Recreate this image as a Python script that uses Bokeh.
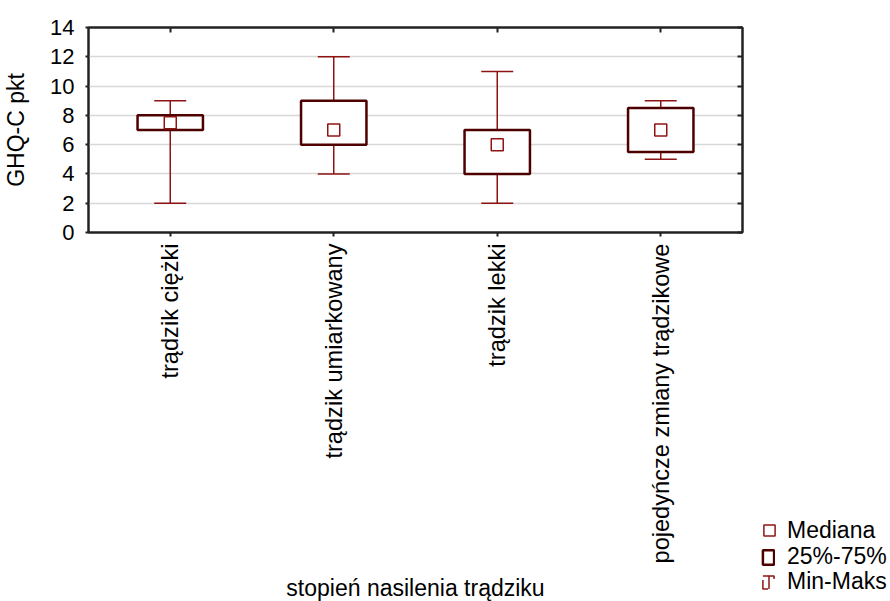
import math
from bokeh.plotting import figure
from bokeh.models import (ColumnDataSource, LinearAxis, CategoricalAxis, Legend,
                          LegendItem, FixedTicker, Range1d, Spacer)
from bokeh.layouts import row, column
from bokeh.embed import file_html
from bokeh.resources import INLINE

categories = ["trądzik ciężki", "trądzik umiarkowany", "trądzik lekki",
              "pojedyńcze zmiany trądzikowe"]
mins = [2, 4, 2, 5]
q1s = [7, 6, 4, 5.5]
medians = [7.5, 7, 6, 7]
q3s = [8, 9, 7, 8.5]
maxs = [9, 12, 11, 9]
y_ticks = [0, 2, 4, 6, 8, 10, 12, 14]
legend_labels = ["Mediana", "25%-75%", "Min-Maks"]

FONT = "Liberation Sans"
BOX_C = "#4E0000"
WH_C = "#8E1414"
AX_C = "#222222"
NAN = float("nan")

src = ColumnDataSource(dict(cat=categories, mn=mins, q1=q1s, med=medians,
                            q3=q3s, mx=maxs))

p = figure(x_range=categories, y_range=Range1d(0, 14), width=746, height=601,
           frame_width=654, frame_height=205,
           min_border_left=87, min_border_top=27, min_border_right=5,
           min_border_bottom=369, output_backend="svg", toolbar_location=None,
           background_fill_color="white", border_fill_color="white")
p.outline_line_color = AX_C
p.outline_line_width = 2

# whiskers
p.segment(x0="cat", y0="q3", x1="cat", y1="mx", source=src, line_color=WH_C, line_width=1.5)
p.segment(x0="cat", y0="q1", x1="cat", y1="mn", source=src, line_color=WH_C, line_width=1.5)
p.scatter(x="cat", y="mx", source=src, marker="dash", size=32, line_color=WH_C, line_width=1.5)
p.scatter(x="cat", y="mn", source=src, marker="dash", size=32, line_color=WH_C, line_width=1.5)
# boxes
p.vbar(x="cat", bottom="q1", top="q3", width=0.4, source=src, fill_color="white",
       line_color=BOX_C, line_width=2.5)
# medians
p.scatter(x="cat", y="med", source=src, marker="square", size=12, fill_color="white",
          line_color=WH_C, line_width=1.5)

# grid
p.xgrid.grid_line_color = None
p.ygrid.grid_line_color = "#d8d8d8"
p.ygrid.grid_line_width = 1.5
p.ygrid.ticker = FixedTicker(ticks=y_ticks)

# left axis
ya = p.yaxis[0]
ya.ticker = FixedTicker(ticks=y_ticks)
ya.axis_label = "GHQ-C pkt"
ya.axis_label_text_font = FONT
ya.axis_label_text_font_size = "23px"
ya.axis_label_text_font_style = "normal"
ya.axis_label_text_color = "black"
ya.axis_label_standoff = 18
ya.major_label_text_font = FONT
ya.major_label_text_font_size = "22px"
ya.major_label_text_color = "black"
ya.major_label_standoff = 11
ya.major_tick_out = 3
ya.major_tick_in = 0
ya.minor_tick_out = 0
ya.minor_tick_in = 0
ya.axis_line_color = AX_C
ya.axis_line_width = 2
ya.major_tick_line_color = AX_C
ya.major_tick_line_width = 2

# bottom axis
xa = p.xaxis[0]
xa.axis_label = "stopień nasilenia trądziku"
xa.axis_label_text_font = FONT
xa.axis_label_text_font_size = "23px"
xa.axis_label_text_font_style = "normal"
xa.axis_label_text_color = "black"
xa.axis_label_standoff = 9
xa.major_label_orientation = math.pi / 2
xa.major_label_text_font = FONT
xa.major_label_text_font_size = "23.6px"
xa.major_label_text_color = "black"
xa.major_label_standoff = 7
xa.major_tick_out = 4
xa.major_tick_in = 0
xa.axis_line_color = AX_C
xa.axis_line_width = 2
xa.major_tick_line_color = AX_C
xa.major_tick_line_width = 2

# right axis (ticks inward)
ra = LinearAxis(ticker=FixedTicker(ticks=y_ticks), major_label_text_font_size="0px",
                major_tick_in=5, major_tick_out=0, minor_tick_in=0, minor_tick_out=0,
                axis_line_color=AX_C, axis_line_width=2,
                major_tick_line_color=AX_C, major_tick_line_width=2,
                major_label_standoff=0)
p.add_layout(ra, "right")
# top axis (ticks inward)
ta = CategoricalAxis(major_label_text_font_size="0px", major_tick_in=5, major_tick_out=0,
                     axis_line_color=AX_C, axis_line_width=2,
                     major_tick_line_color=AX_C, major_tick_line_width=2,
                     major_label_standoff=0)
p.add_layout(ta, "above")

# legend panel (swatch renderers with undefined positions -> nothing drawn in the frame)
lp = figure(width=144, height=96, x_range=Range1d(0, 1), y_range=Range1d(0, 1),
            x_axis_type=None, y_axis_type=None, min_border=0,
            min_border_left=0, min_border_right=0, min_border_top=0, min_border_bottom=0,
            output_backend="svg", toolbar_location=None,
            background_fill_color="white", border_fill_color="white")
lp.outline_line_color = None
lp.grid.visible = False

med_r = lp.scatter(x=NAN, y=NAN, source=ColumnDataSource(dict(label=legend_labels)),
                   marker="square", fill_color="white", line_color=WH_C, line_width=1.5)
box_r = lp.rect(x=NAN, y=NAN, width=1, height=1,
                source=ColumnDataSource(dict(label=legend_labels)),
                fill_color="white", line_color=BOX_C, line_width=2.5)
# I-beam swatch: dashed outline gives the two caps, a vertical hatch line gives the stem
wh_r = lp.rect(x=NAN, y=NAN, width=1, height=1,
               source=ColumnDataSource(dict(label=legend_labels)),
               fill_color=None, line_color=WH_C, line_width=1.5, line_dash="14 16",
               hatch_pattern="|", hatch_scale=14, hatch_weight=1.5, hatch_color=WH_C)

def make_legend(label, renderer, gw, gh, standoff, loc):
    lg = Legend(items=[LegendItem(label=label, renderers=[renderer])],
                location=loc, glyph_width=gw, glyph_height=gh, label_standoff=standoff,
                label_height=gh, padding=0, margin=0, spacing=0,
                border_line_color=None, background_fill_alpha=0,
                label_text_font=FONT, label_text_font_size="23px",
                label_text_color="black")
    lp.add_layout(lg, "center")

make_legend(legend_labels[0], med_r, 28, 28, 4, (8, 57))
make_legend(legend_labels[1], box_r, 14, 18, 12, (14, 31))
make_legend(legend_labels[2], wh_r, 14, 16, 12, (14, 6))

layout = row(p, column(Spacer(width=144, height=505), lp))

open("out.html", "w").write(file_html(layout, INLINE))
